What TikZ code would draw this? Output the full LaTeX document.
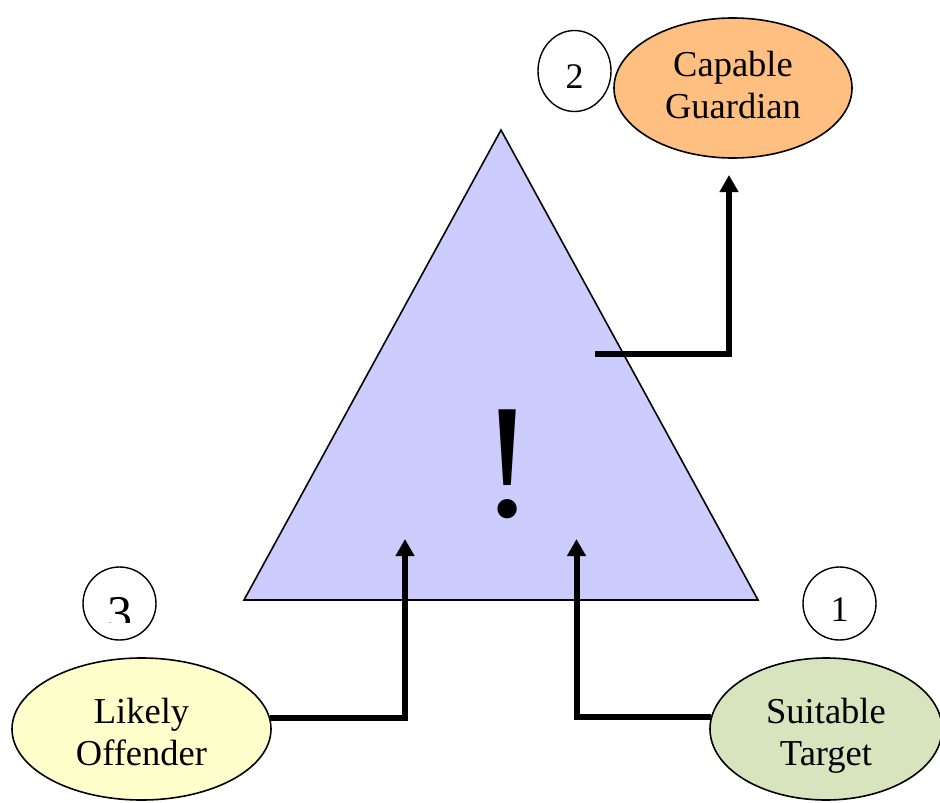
\documentclass[tikz,border=0pt]{standalone}
\usepackage{fontspec}
\setmainfont{Liberation Serif}
\usetikzlibrary{shapes.geometric,arrows.meta}
\definecolor{triblue}{HTML}{CCCCFF}
\definecolor{guardorange}{HTML}{FFBF80}
\definecolor{offyellow}{HTML}{FFFFCC}
\definecolor{targgreen}{HTML}{D7E4BD}
\tikzset{
  actor/.style={ellipse,draw=black,line width=1.6pt,inner sep=0pt,align=center,
    font=\fontsize{36.5}{42}\selectfont,text depth=0pt},
  numcirc/.style={ellipse,draw=black,line width=1.4pt,fill=white,inner sep=0pt},
  numtext/.style={anchor=base,inner sep=0pt,font=\fontsize{36}{42}\selectfont},
  link/.style={line width=6pt,-{Triangle[width=18pt,length=17pt]}}
}
\begin{document}
\begin{tikzpicture}[x=1pt,y=-1pt]
\useasboundingbox (0,0) rectangle (940,803);
\fill[white] (0,0) rectangle (940,803);
% triangle
\coordinate (apex) at (501,130);
\coordinate (bl) at (244,600);
\coordinate (br) at (758,600);
\draw[fill=triblue,line width=1.6pt,line join=miter] (apex) -- (bl) -- (br) -- cycle;
\node[anchor=base,inner sep=0pt,font=\fontsize{163}{170}\selectfont] (excl) at (508,516) {!};
% actors
\node[actor,fill=guardorange,minimum width=238pt,minimum height=140pt,text height=60pt] (cg) at (733,88) {Capable\\Guardian};
\node[actor,fill=offyellow,minimum width=259pt,minimum height=142pt,text height=72pt] (lo) at (141.5,729) {Likely\\Offender};
\node[actor,fill=targgreen,minimum width=232pt,minimum height=142pt,text height=72pt] (st) at (826,729) {Suitable\\Target};
% number circles
\node[numcirc,minimum width=73pt,minimum height=81pt] (c2) at (574.5,71) {};
\node[numtext] (d2) at (574.5,88) {2};
\node[numcirc,minimum width=73pt,minimum height=73pt] (c3) at (119.5,603.5) {};
\node[numcirc,minimum width=73pt,minimum height=73pt] (c1) at (839.5,603.5) {};
\begin{scope}
\clip (60,560) rectangle (900,622);
\node[anchor=base,inner sep=0pt,font=\fontsize{50}{55}\selectfont] (d3) at (120,630) {3};
\node[numtext] (d1) at (839.5,621.5) {1};
\end{scope}
% connectors
\coordinate (t1) at (405,539);
\coordinate (t2) at (576.5,539);
\coordinate (g0) at (595,354);
\coordinate (g1) at (729,175);
\draw[link] (lo.5) -| (t1);
\draw[link] (st.174) -| (t2);
\draw[link] (g0) -| (g1);
\end{tikzpicture}
\end{document}
